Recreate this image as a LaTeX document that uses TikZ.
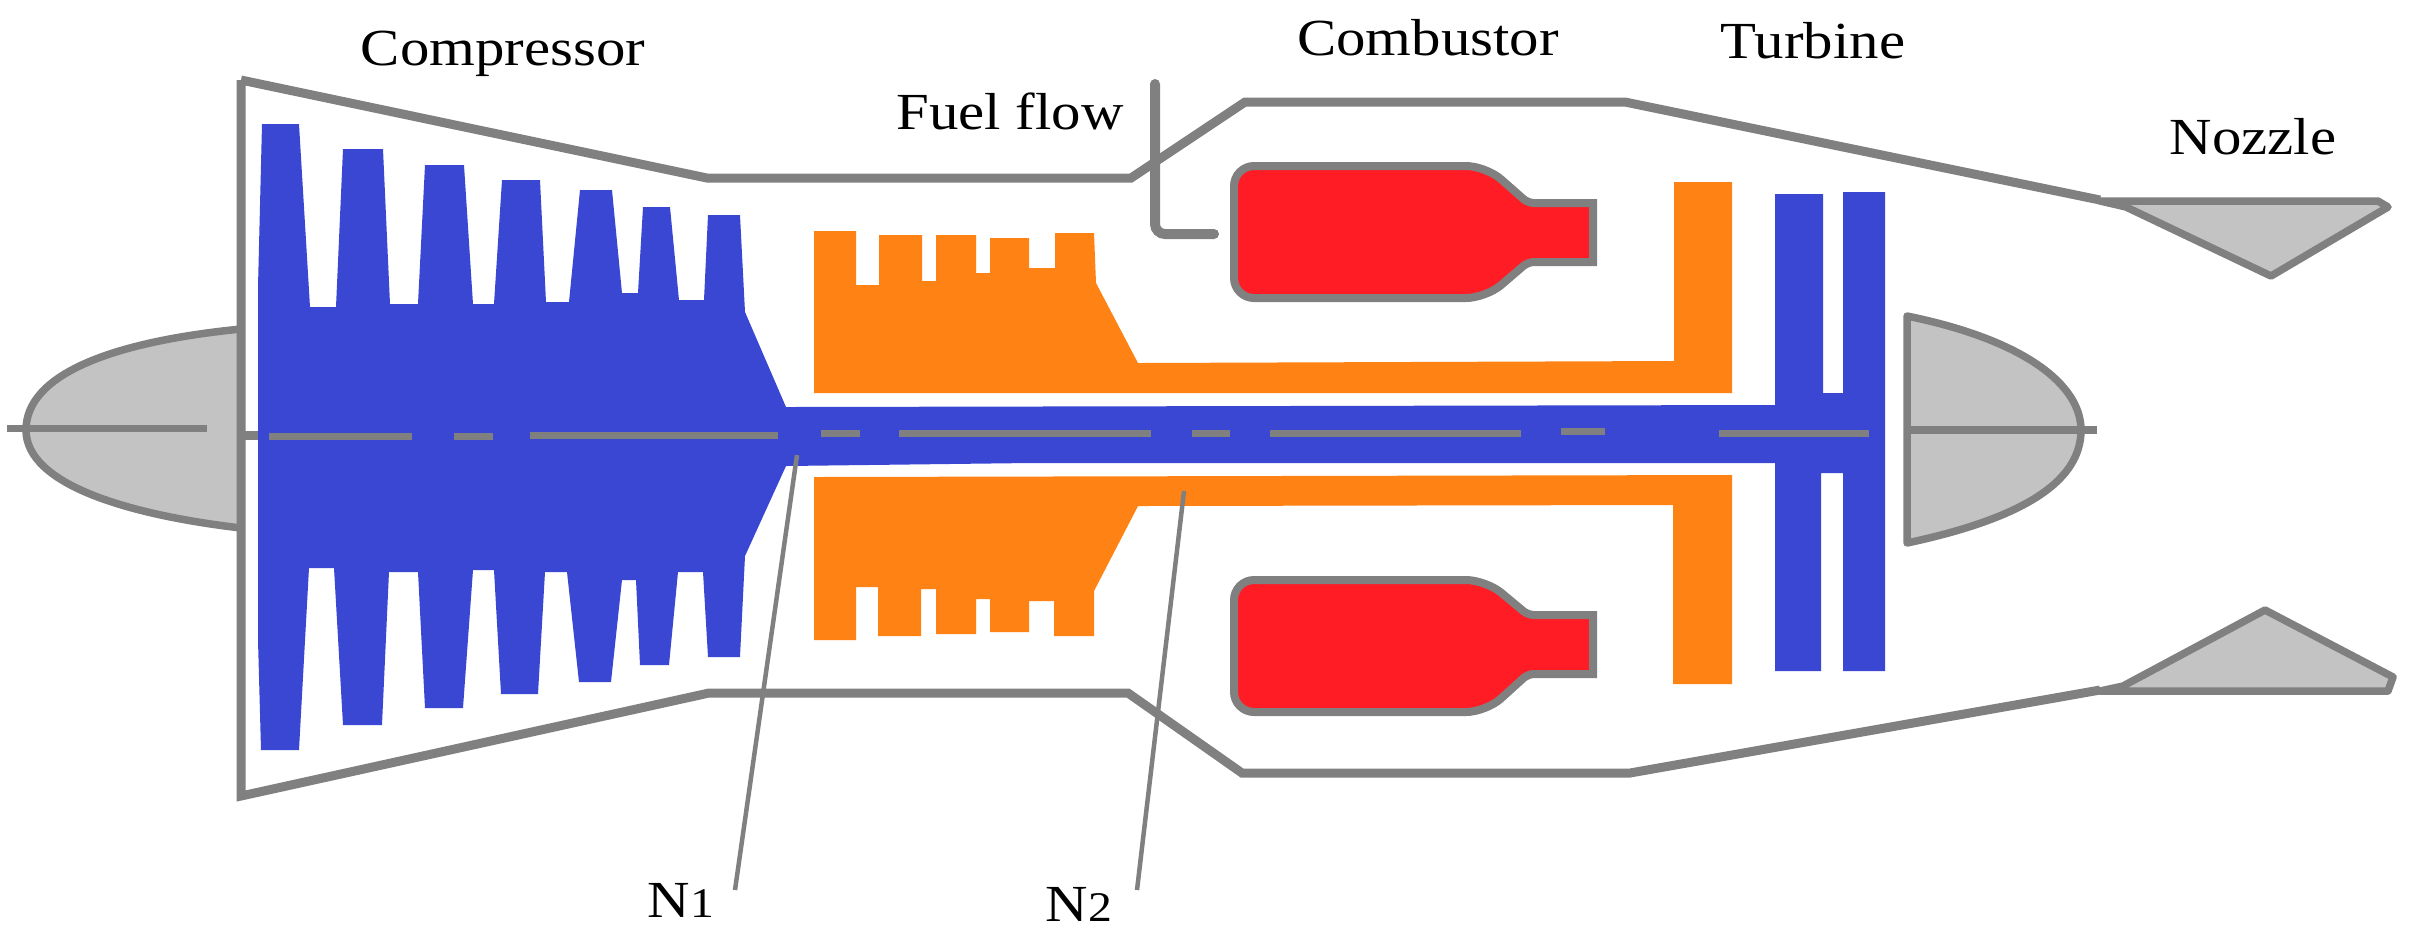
\documentclass[tikz,border=0pt]{standalone}
\usepackage{fontspec}
\setmainfont{Liberation Serif}[FakeStretch=1.13]
\definecolor{rotorblue}{RGB}{57,71,210}
\definecolor{statororange}{RGB}{255,130,20}
\definecolor{flamered}{RGB}{255,28,36}
\definecolor{conegray}{RGB}{195,195,195}
\definecolor{linegray}{RGB}{128,128,128}
\newcommand{\lowdigit}[1]{{\fontsize{12}{14}\selectfont #1}}
\tikzset{
  casing/.style={draw=linegray,line width=0.09cm,line join=miter},
  cone/.style={draw=linegray,fill=conegray,line width=0.075cm,line join=round},
  burner/.style={draw=linegray,fill=flamered,line width=0.08cm,rounded corners=0.2cm},
  leader/.style={draw=linegray,line width=0.045cm},
  axisline/.style={draw=linegray,line width=0.07cm},
  label/.style={anchor=base,inner sep=0pt,font=\fontsize{14.8}{18}\selectfont}
}
\begin{document}
\begin{tikzpicture}[x=0.01cm,y=-0.01cm]
  \useasboundingbox (0,0) rectangle (2412,932);

  \draw[cone] (241,329) .. controls (110,342) and (26,375) .. (26,430)
    .. controls (26,485) and (130,515) .. (241,528) -- cycle;
  \draw[axisline] (7,428) -- (207,428);
  \draw[cone] (1907,316) .. controls (2025,340) and (2081,385) .. (2081,430)
    .. controls (2081,485) and (2015,520) .. (1907,543) -- cycle;
  \draw[axisline,line width=0.08cm] (1907,430) -- (2097,430);

  \fill[rotorblue] (262,124) -- (299,124) -- (310,307) -- (336,307)
    -- (343,149) -- (383,149) -- (390,304) -- (418,304)
    -- (425,165) -- (464,165) -- (473,304) -- (494,304)
    -- (502,180) -- (540,180) -- (546,302) -- (569,302)
    -- (580,190) -- (612,190) -- (622,293) -- (638,293)
    -- (643,207) -- (670,207) -- (679,300) -- (704,300)
    -- (708,215) -- (740,215) -- (745,312) -- (786,407)
    -- (1775,405) -- (1775,194) -- (1823,194) -- (1823,393) -- (1843,393)
    -- (1843,192) -- (1885,192) -- (1885,671) -- (1843,671) -- (1843,473)
    -- (1821,473) -- (1821,671) -- (1775,671) -- (1775,463) -- (1030,463)
    -- (786,466) -- (745,556) -- (740,657) -- (708,657)
    -- (703,572) -- (678,572) -- (669,665) -- (640,665)
    -- (636,580) -- (622,580) -- (611,682) -- (579,682)
    -- (567,572) -- (545,572) -- (538,694) -- (501,694)
    -- (494,570) -- (473,570) -- (463,708) -- (425,708)
    -- (418,572) -- (389,572) -- (382,725) -- (343,725)
    -- (334,568) -- (309,568) -- (299,750) -- (261,750)
    -- (258,640) -- (258,287) -- cycle;

  \fill[statororange] (814,231) -- (856,231) -- (856,285) -- (879,285)
    -- (879,235) -- (922,235) -- (922,281) -- (936,281)
    -- (936,235) -- (976,235) -- (976,273) -- (990,273)
    -- (990,238) -- (1029,238) -- (1029,268) -- (1055,268)
    -- (1055,233) -- (1094,233) -- (1096,283) -- (1138,363)
    -- (1674,361) -- (1674,182) -- (1732,182) -- (1732,393) -- (814,393) -- cycle;
  \fill[statororange] (814,477) -- (1732,475) -- (1732,684) -- (1673,684)
    -- (1673,505) -- (1138,506) -- (1094,591) -- (1094,636) -- (1054,636)
    -- (1054,601) -- (1029,601) -- (1029,632) -- (990,632)
    -- (990,599) -- (976,599) -- (976,634) -- (936,634)
    -- (936,589) -- (921,589) -- (921,636) -- (878,636)
    -- (878,587) -- (856,587) -- (856,640) -- (814,640) -- cycle;

  \foreach \xa/\xb/\ya in {269/412/436,454/493/436,530/778/435,821/860/433,899/1151/433,
      1192/1230/433,1270/1521/433,1561/1605/431,1719/1869/433}
    \draw[axisline] (\xa,\ya) -- (\xb,\ya);
  \draw[casing] (241,435) -- (258,435);

  \draw[casing] (241,80) -- (707,178) -- (1131,178) -- (1245,102) -- (1625,102) -- (2100,200);
  \draw[casing] (241,80) -- (241,796) -- (709,693) -- (1128,693) -- (1242,773) -- (1630,773) -- (2100,690);
  \draw[cone] (2100,201) -- (2378,201) -- (2388,207) -- (2271,276) -- (2126,207) -- cycle;
  \draw[cone] (2100,691) -- (2388,691) -- (2393,677) -- (2265,610) -- (2123,686) -- cycle;

  \draw[burner] (1234,166) -- (1486,166) [rounded corners=0.06cm] -- (1528,203) [sharp corners] -- (1593,203) -- (1593,262)
    [rounded corners=0.06cm] -- (1528,262) [rounded corners=0.2cm] -- (1486,298) -- (1234,298) -- cycle;
  \draw[burner] (1234,580) -- (1486,580) [rounded corners=0.06cm] -- (1528,615) [sharp corners] -- (1593,615) -- (1593,674)
    [rounded corners=0.06cm] -- (1528,674) [rounded corners=0.2cm] -- (1486,712) -- (1234,712) -- cycle;

  \draw[casing,line width=0.1cm,rounded corners=0.1cm,line cap=round] (1155,84) -- (1155,234) -- (1214,234);

  \node[label] (compressor) at (503,65)  {Compressor};
  \node[label] (fuelflow)   at (1010,129) {Fuel flow};
  \node[label] (combustor)  at (1428,55)  {Combustor};
  \node[label] (turbine)    at (1813,58)  {Turbine};
  \node[label] (nozzle)     at (2253,154) {Nozzle};
  \node[label] (n1)         at (681,917)  {N\lowdigit{1}};
  \node[label] (n2)         at (1079,921) {N\lowdigit{2}};

  \coordinate (n1foot) at (735,890);
  \coordinate (n1tip)  at (797,455);
  \coordinate (n2foot) at (1137,890);
  \coordinate (n2tip)  at (1184,491);
  \draw[leader] (n1foot) -- (n1tip);
  \draw[leader] (n2foot) -- (n2tip);
\end{tikzpicture}
\end{document}
